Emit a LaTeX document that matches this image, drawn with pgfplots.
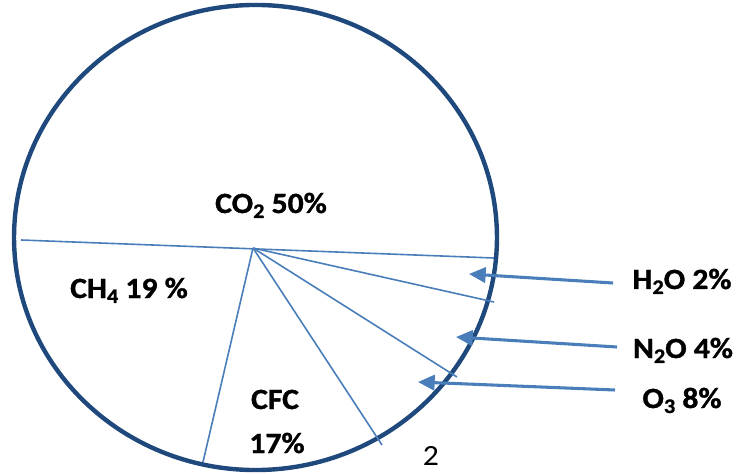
\documentclass[border=0pt]{standalone}
\usepackage{fontspec}
\setmainfont{Carlito}[FakeStretch=1.08, BoldFeatures={FakeBold=1.2}]
\usepackage{pgfplots}
\pgfplotsset{compat=1.18}
\usetikzlibrary{arrows.meta}
\definecolor{rim}{HTML}{1F497D}
\definecolor{acc}{HTML}{4A7EBB}
\newcommand{\sub}[1]{\raisebox{-0.35ex}{\fontsize{15.5}{15}\selectfont #1}}
\begin{document}
\begin{tikzpicture}
\begin{axis}[
  scale only axis, width=552pt, height=355.5pt,
  xmin=0, xmax=736, ymin=0, ymax=474, y dir=reverse,
  hide axis, clip=false,
]
\path (axis cs:0,0) rectangle (axis cs:736,474);
\draw[rim, line width=3.3pt] (axis cs:255.5,237.5) ellipse [x radius=181.1pt, y radius=174.4pt];
% pie division lines
\addplot[acc, line width=1.2pt] coordinates {(21,240) (494,258)};
\addplot[acc, line width=1.2pt] coordinates {(253,248) (494,302)};
\addplot[acc, line width=1.2pt] coordinates {(253,248) (457,377)};
\addplot[acc, line width=1.2pt] coordinates {(253,248) (382,445)};
\addplot[acc, line width=1.2pt] coordinates {(253,248) (203,462)};
% arrows
\addplot[acc, line width=2.3pt, -{Triangle[length=12.5pt,width=11.5pt]}] coordinates {(613,283) (469,274)};
\addplot[acc, line width=2.3pt, -{Triangle[length=12.5pt,width=11.5pt]}] coordinates {(617,347) (456,337)};
\addplot[acc, line width=2.3pt, -{Triangle[length=12.5pt,width=11.5pt]}] coordinates {(615,390) (418,382)};
% labels
\begin{scope}[every node/.style={anchor=base, inner sep=0pt, font=\fontsize{22}{26}\selectfont\bfseries}]
\node at (axis cs:271,213) {CO\sub{2} 50\%};
\node at (axis cs:129,298) {CH\sub{4} 19 \%};
\node at (axis cs:275,409) {CFC};
\node at (axis cs:277,453) {17\%};
\node at (axis cs:682,289) {H\sub{2}O 2\%};
\node at (axis cs:683,358) {N\sub{2}O 4\%};
\node at (axis cs:682,408) {O\sub{3} 8\%};
\node[font=\fontsize{22}{26}\selectfont] at (axis cs:431,465) {2};
\end{scope}
\end{axis}
\end{tikzpicture}
\end{document}
